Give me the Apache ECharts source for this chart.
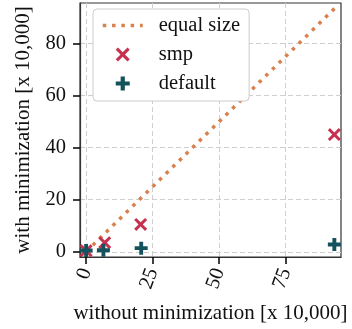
<!DOCTYPE html>
<html><head><meta charset="utf-8">
<script src="https://cdn.jsdelivr.net/npm/echarts@6/dist/echarts.min.js"></script>
<style>html,body{margin:0;padding:0;background:#fff}#c{width:352px;height:329px}</style>
</head><body><div id="c"></div>
<script>
const lineX = [0, 94];
const lineY = [0, 94];
const smpX = [0, 7, 20.5, 93.3];
const smpY = [0.4, 3.5, 10.5, 45];
const defX = [0, 6.5, 20.7, 93.3];
const defY = [0.5, 0.6, 1.4, 2.8];
const xTicks = [0, 25, 50, 75];
const yTicks = [0, 20, 40, 60, 80];
const seriesNames = ['equal size', 'smp', 'default'];

const FONT = 'Liberation Serif';
const FS = 20.5;
const NFS = 21;
const X_PATH = 'path://M1.6,0L5,3.4L8.4,0L10,1.6L6.6,5L10,8.4L8.4,10L5,6.6L1.6,10L0,8.4L3.4,5L0,1.6Z';
const P_PATH = 'path://M3.5,0L6.5,0L6.5,3.5L10,3.5L10,6.5L6.5,6.5L6.5,10L3.5,10L3.5,6.5L0,6.5L0,3.5L3.5,3.5Z';
const cOrange = '#d9804f', cRed = '#c8304f', cTeal = '#14535e';
const dotLine = {color: cOrange, width: 3.5, type: [3.5, 5.8], cap: 'butt'};

const zip = (a, b) => a.map((v, i) => [v, b[i]]);
const chart = echarts.init(document.getElementById('c'), null, {renderer: 'canvas'});
const axisCommon = {
  type: 'value',
  axisLine: {show: true, onZero: false, lineStyle: {color: '#333', width: 1.2}},
  axisTick: {show: true, length: 7, lineStyle: {color: '#000', width: 1.5}},
  splitLine: {show: true, lineStyle: {color: '#cfcfcf', width: 1, type: [5, 3]}},
  nameLocation: 'middle',
  nameTextStyle: {fontFamily: FONT, fontSize: NFS, color: '#111'}
};
chart.setOption({
  animation: false,
  backgroundColor: '#fff',
  grid: {left: 80, top: 3, width: 261, height: 254, show: true, borderColor: '#333', borderWidth: 1.2, containLabel: false},
  xAxis: Object.assign({}, axisCommon, {
    min: -2.3, max: 95.8,
    name: 'without minimization [x 10,000]', nameGap: 46,
    axisTick: Object.assign({}, axisCommon.axisTick, {customValues: xTicks}),
    axisLabel: {customValues: xTicks, rotate: 70, margin: 12, fontFamily: FONT, fontSize: FS, color: '#111'}
  }),
  yAxis: Object.assign({}, axisCommon, {
    min: -2, max: 95.5,
    name: 'with minimization [x 10,000]', nameGap: 46,
    axisTick: Object.assign({}, axisCommon.axisTick, {customValues: yTicks}),
    axisLabel: {customValues: yTicks, margin: 14, fontFamily: FONT, fontSize: FS, color: '#111'}
  }),
  legend: {
    orient: 'vertical', left: 93, top: 9,
    padding: [6, 9, 7, 8], itemGap: 8, itemWidth: 40, itemHeight: 14,
    backgroundColor: '#fff', borderColor: '#cccccc', borderWidth: 1, borderRadius: 4,
    textStyle: {fontFamily: FONT, fontSize: FS, color: '#111', lineHeight: 20, padding: [0, 0, 0, 11]},
    data: [
      {name: seriesNames[0], itemStyle: {opacity: 0}, lineStyle: dotLine},
      {name: seriesNames[1]},
      {name: seriesNames[2]}
    ]
  },
  series: [
    {name: seriesNames[0], type: 'line', data: zip(lineX, lineY), symbol: 'none', z: 2,
     lineStyle: dotLine, itemStyle: {color: cOrange}},
    {name: seriesNames[1], type: 'scatter', data: zip(smpX, smpY), symbol: X_PATH, symbolSize: 13, z: 3,
     itemStyle: {color: cRed, opacity: 1}},
    {name: seriesNames[2], type: 'scatter', data: zip(defX, defY), symbol: P_PATH, symbolSize: 13, z: 4,
     itemStyle: {color: cTeal, opacity: 1}}
  ]
});
</script></body></html>
